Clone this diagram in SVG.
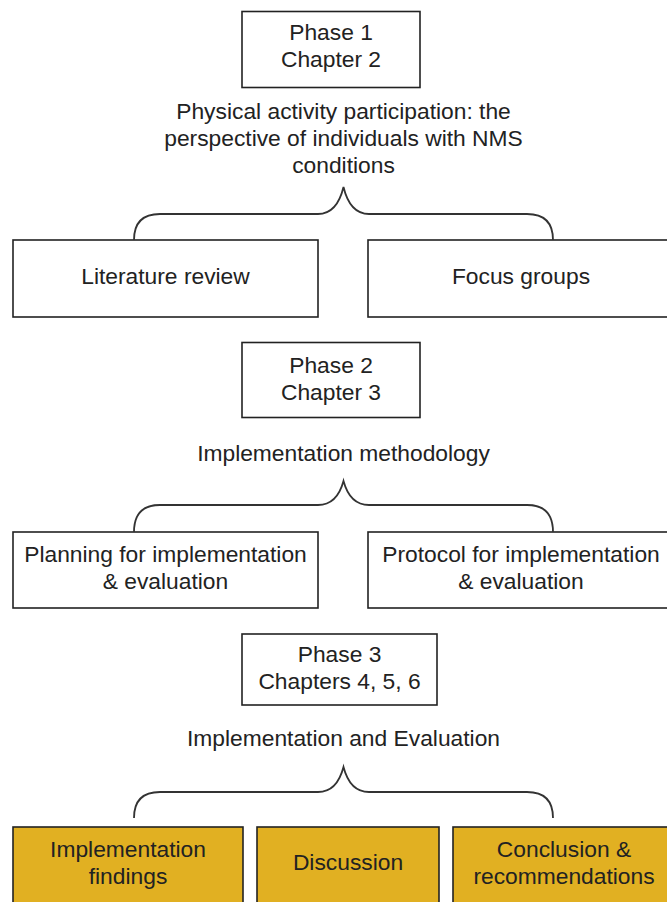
<svg xmlns="http://www.w3.org/2000/svg" width="667" height="902" viewBox="0 0 667 902">
<style>
.box{fill:#ffffff;stroke:#222222;stroke-width:1.6}
.gold{fill:#E1B022;stroke:#222222;stroke-width:1.6}
.brace{fill:none;stroke:#333333;stroke-width:1.8}
text{font-family:"Liberation Sans",Arial,sans-serif;font-size:22.8px;fill:#222222;text-anchor:middle}
</style>
<rect width="667" height="902" fill="#ffffff"/>
<g id="phase1">
<rect class="box" x="242" y="11.5" width="178" height="76"/>
<text x="331" y="40">Phase 1</text>
<text x="331" y="67">Chapter 2</text>
</g>
<g id="label1">
<text x="343.5" y="119">Physical activity participation: the</text>
<text x="343.5" y="146">perspective of individuals with NMS</text>
<text x="343.5" y="173">conditions</text>
</g>
<g id="litreview">
<rect class="box" x="13" y="240" width="305" height="77"/>
<text x="165.5" y="284">Literature review</text>
</g>
<g id="focusgroups">
<rect class="box" x="368" y="240" width="306" height="77"/>
<text x="521" y="284">Focus groups</text>
</g>
<g id="phase2">
<rect class="box" x="242" y="342.5" width="178" height="75"/>
<text x="331" y="373">Phase 2</text>
<text x="331" y="400">Chapter 3</text>
</g>
<g id="label2">
<text x="343.5" y="461">Implementation methodology</text>
</g>
<g id="planning">
<rect class="box" x="13" y="532" width="305" height="76"/>
<text x="165.5" y="562">Planning for implementation</text>
<text x="165.5" y="589">&amp; evaluation</text>
</g>
<g id="protocol">
<rect class="box" x="368" y="532" width="306" height="76"/>
<text x="521" y="562">Protocol for implementation</text>
<text x="521" y="589">&amp; evaluation</text>
</g>
<g id="phase3">
<rect class="box" x="242" y="634" width="195" height="71"/>
<text x="339.5" y="662">Phase 3</text>
<text x="339.5" y="689">Chapters 4, 5, 6</text>
</g>
<g id="label3">
<text x="343.5" y="746">Implementation and Evaluation</text>
</g>
<g id="findings">
<rect class="gold" x="13" y="827" width="230" height="80"/>
<text x="128" y="857">Implementation</text>
<text x="128" y="884">findings</text>
</g>
<g id="discussion">
<rect class="gold" x="257" y="827" width="182" height="80"/>
<text x="348" y="870">Discussion</text>
</g>
<g id="conclusion">
<rect class="gold" x="453" y="827" width="222" height="80"/>
<text x="564" y="857">Conclusion &amp;</text>
<text x="564" y="884">recommendations</text>
</g>
<g id="connectors">
<path class="brace" d="M134,240 Q134,214 160,214 L318,214 Q337,214 343.5,187 Q350,214 369,214 L527,214 Q553,214 553,240"/>
<path class="brace" d="M134,532 Q134,505 160,505 L318,505 Q337,505 343.5,481 Q350,505 369,505 L527,505 Q553,505 553,532"/>
<path class="brace" d="M134,818 Q134,792 160,792 L318,792 Q337,792 343.5,767 Q350,792 369,792 L527,792 Q553,792 553,818"/>
</g>
</svg>
